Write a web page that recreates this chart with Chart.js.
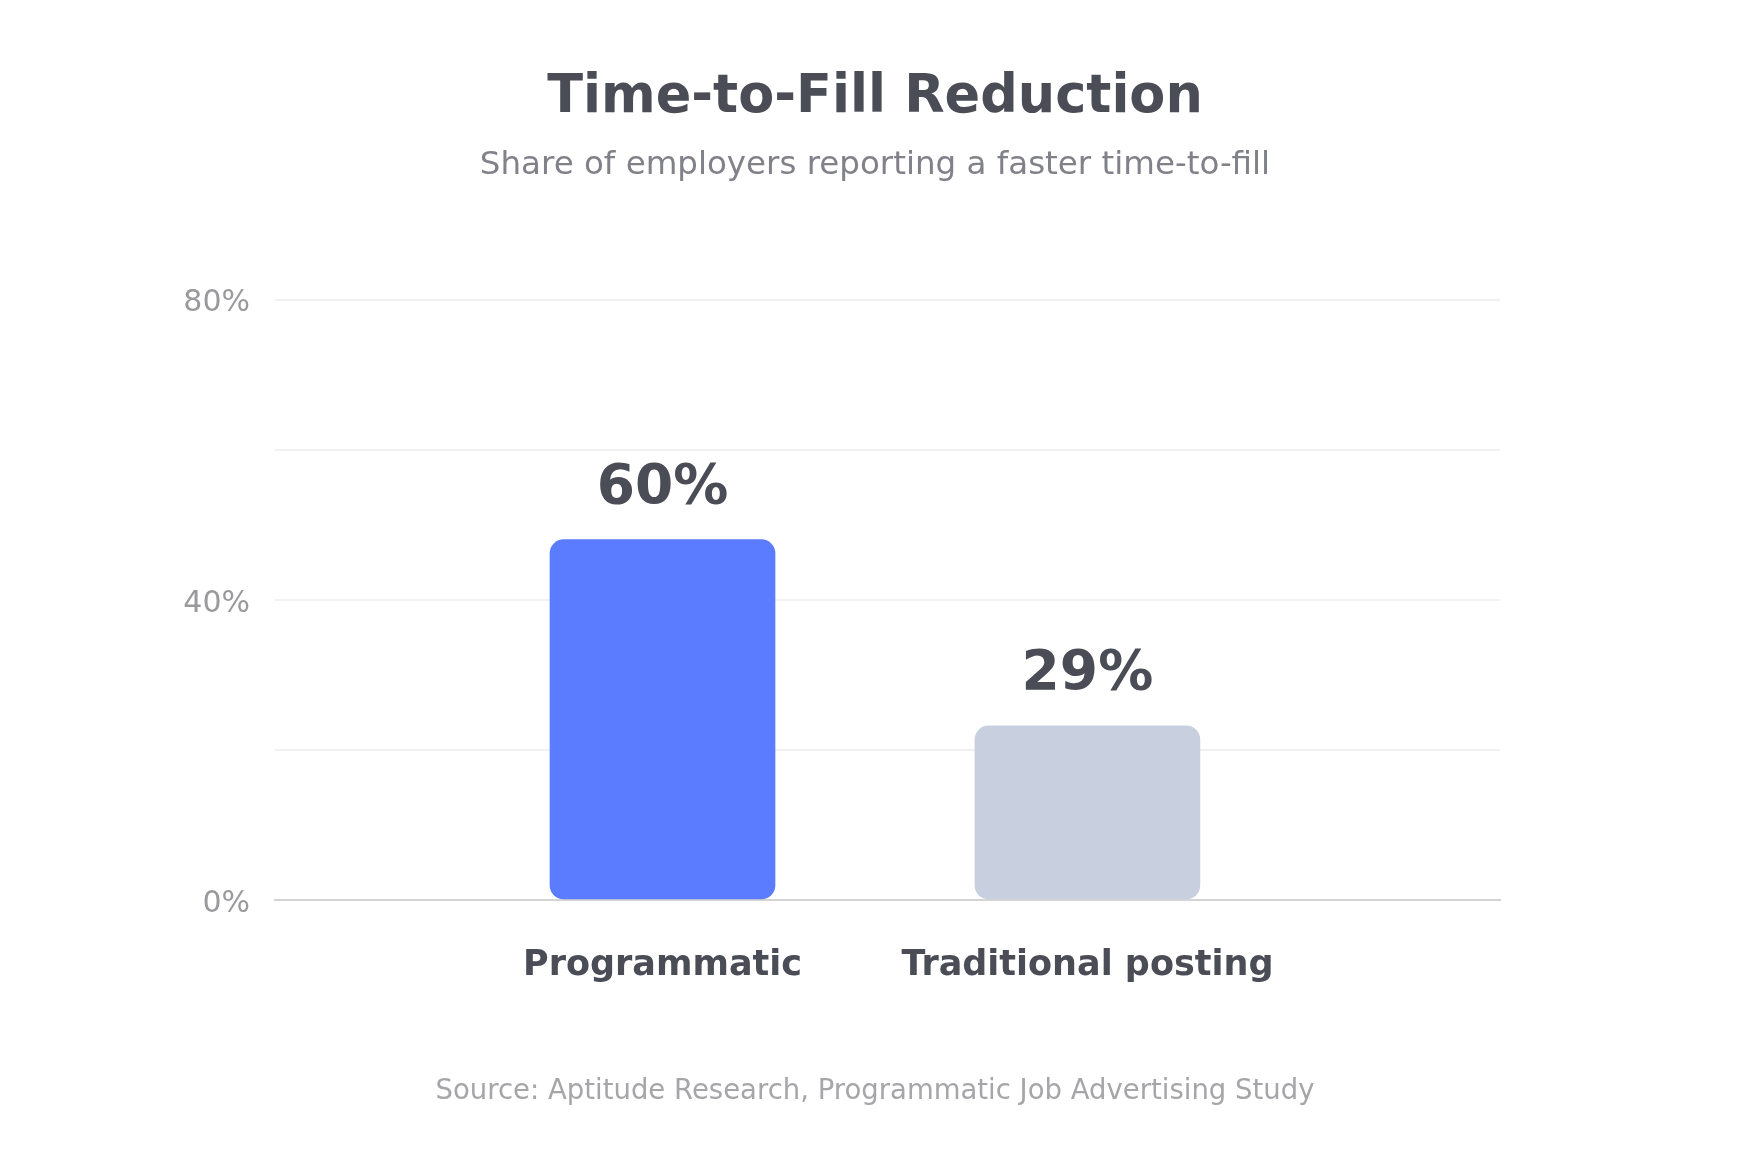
<!DOCTYPE html>
<html>
<head>
<meta charset="utf-8">
<title>Time-to-Fill Reduction</title>
<script src="https://cdn.jsdelivr.net/npm/chart.js@4.4.1/dist/chart.umd.min.js"></script>
<style>
    html, body { margin: 0; padding: 0; background: #fff; }
    #wrap { width: 1750px; height: 1150px; }
</style>
</head>
<body>
<div id="wrap"><canvas id="ttfChart" width="1750" height="1150"></canvas></div>
<script>
// data
const categories = ['Programmatic', 'Traditional posting'];
const barValues = [48, 23.2];          // bar heights against the y axis
const valueLabels = ['60%', '29%'];    // text printed above each bar
const barColors = ['#5b7cff', '#c8cfdf'];
const yTicks = [0, 20, 40, 60, 80];
const yTickLabels = ['0%', '', '40%', '', '80%'];
const sourceNote = 'Source: Aptitude Research, Programmatic Job Advertising Study';

(function () {
    const font = "'DejaVu Sans', sans-serif";
    const dark = '#4a4c56';
    Chart.defaults.font.family = font;

    // numbers above the bars
    const valueLabelPlugin = {
        id: 'valueLabels',
        afterDatasetsDraw(chart) {
            const ctx = chart.ctx;
            const meta = chart.getDatasetMeta(0);
            ctx.save();
            ctx.font = 'bold 55px ' + font;
            ctx.fillStyle = dark;
            ctx.textAlign = 'center';
            ctx.textBaseline = 'alphabetic';
            meta.data.forEach((bar, i) => {
                ctx.fillText(valueLabels[i], bar.x, bar.y - 37);
            });
            ctx.restore();
        }
    };

    // source line at the bottom
    const sourcePlugin = {
        id: 'sourceNote',
        afterDraw(chart) {
            const ctx = chart.ctx;
            ctx.save();
            ctx.font = '27.5px ' + font;
            ctx.fillStyle = '#a6a6aa';
            ctx.textAlign = 'center';
            ctx.textBaseline = 'alphabetic';
            ctx.fillText(sourceNote, chart.width / 2, 1099);
            ctx.restore();
        }
    };

    new Chart(document.getElementById('ttfChart'), {
        type: 'bar',
        data: {
            datasets: [{
                data: barValues.map((v, i) => ({ x: i, y: v })),
                backgroundColor: barColors,
                borderWidth: 0,
                borderRadius: 14,
                borderSkipped: false,
                barThickness: 225
            }]
        },
        options: {
            responsive: false,
            animation: false,
            layout: { padding: { left: 0, right: 0, top: 0, bottom: 160 } },
            scales: {
                x: {
                    type: 'linear',
                    offset: false,
                    min: -0.912,
                    max: 1.971,
                    afterBuildTicks: s => { s.ticks = categories.map((c, i) => ({ value: i })); },
                    afterFit: s => { s.height = 90; },
                    grid: { display: false, drawTicks: false, offset: false },
                    border: { display: true, color: '#d4d4d6', width: 2 },
                    ticks: {
                        padding: 45,
                        maxRotation: 0,
                        color: dark,
                        font: { size: 35, weight: 'bold' },
                        callback: (v, i) => categories[i]
                    }
                },
                y: {
                    min: 0,
                    max: 80,
                    afterBuildTicks: s => { s.ticks = yTicks.map(v => ({ value: v })); },
                    afterFit: s => { s.width = 275; },
                    grid: { color: '#f1f1f2', lineWidth: 2, drawTicks: false },
                    border: { display: false },
                    ticks: {
                        padding: 25,
                        labelOffset: 4,
                        color: '#9a9a9e',
                        font: { size: 30 },
                        callback: (v, i) => yTickLabels[i]
                    }
                },
                // empty right-hand axis, only reserves the right margin
                yRight: {
                    position: 'right',
                    display: true,
                    afterFit: s => { s.width = 250; },
                    grid: { display: false, drawTicks: false },
                    border: { display: false },
                    ticks: { display: false }
                }
            },
            plugins: {
                legend: { display: false },
                tooltip: { enabled: false },
                title: {
                    display: true,
                    text: 'Time-to-Fill Reduction',
                    color: dark,
                    font: { size: 52.5, weight: 'bold' },
                    padding: { top: 66.5, bottom: 16.5 }
                },
                subtitle: {
                    display: true,
                    text: 'Share of employers reporting a faster time-to-fill',
                    color: '#808189',
                    font: { size: 32.5 },
                    padding: { top: 0, bottom: 114.5 }
                }
            }
        },
        plugins: [valueLabelPlugin, sourcePlugin]
    });
})();
</script>
</body>
</html>
